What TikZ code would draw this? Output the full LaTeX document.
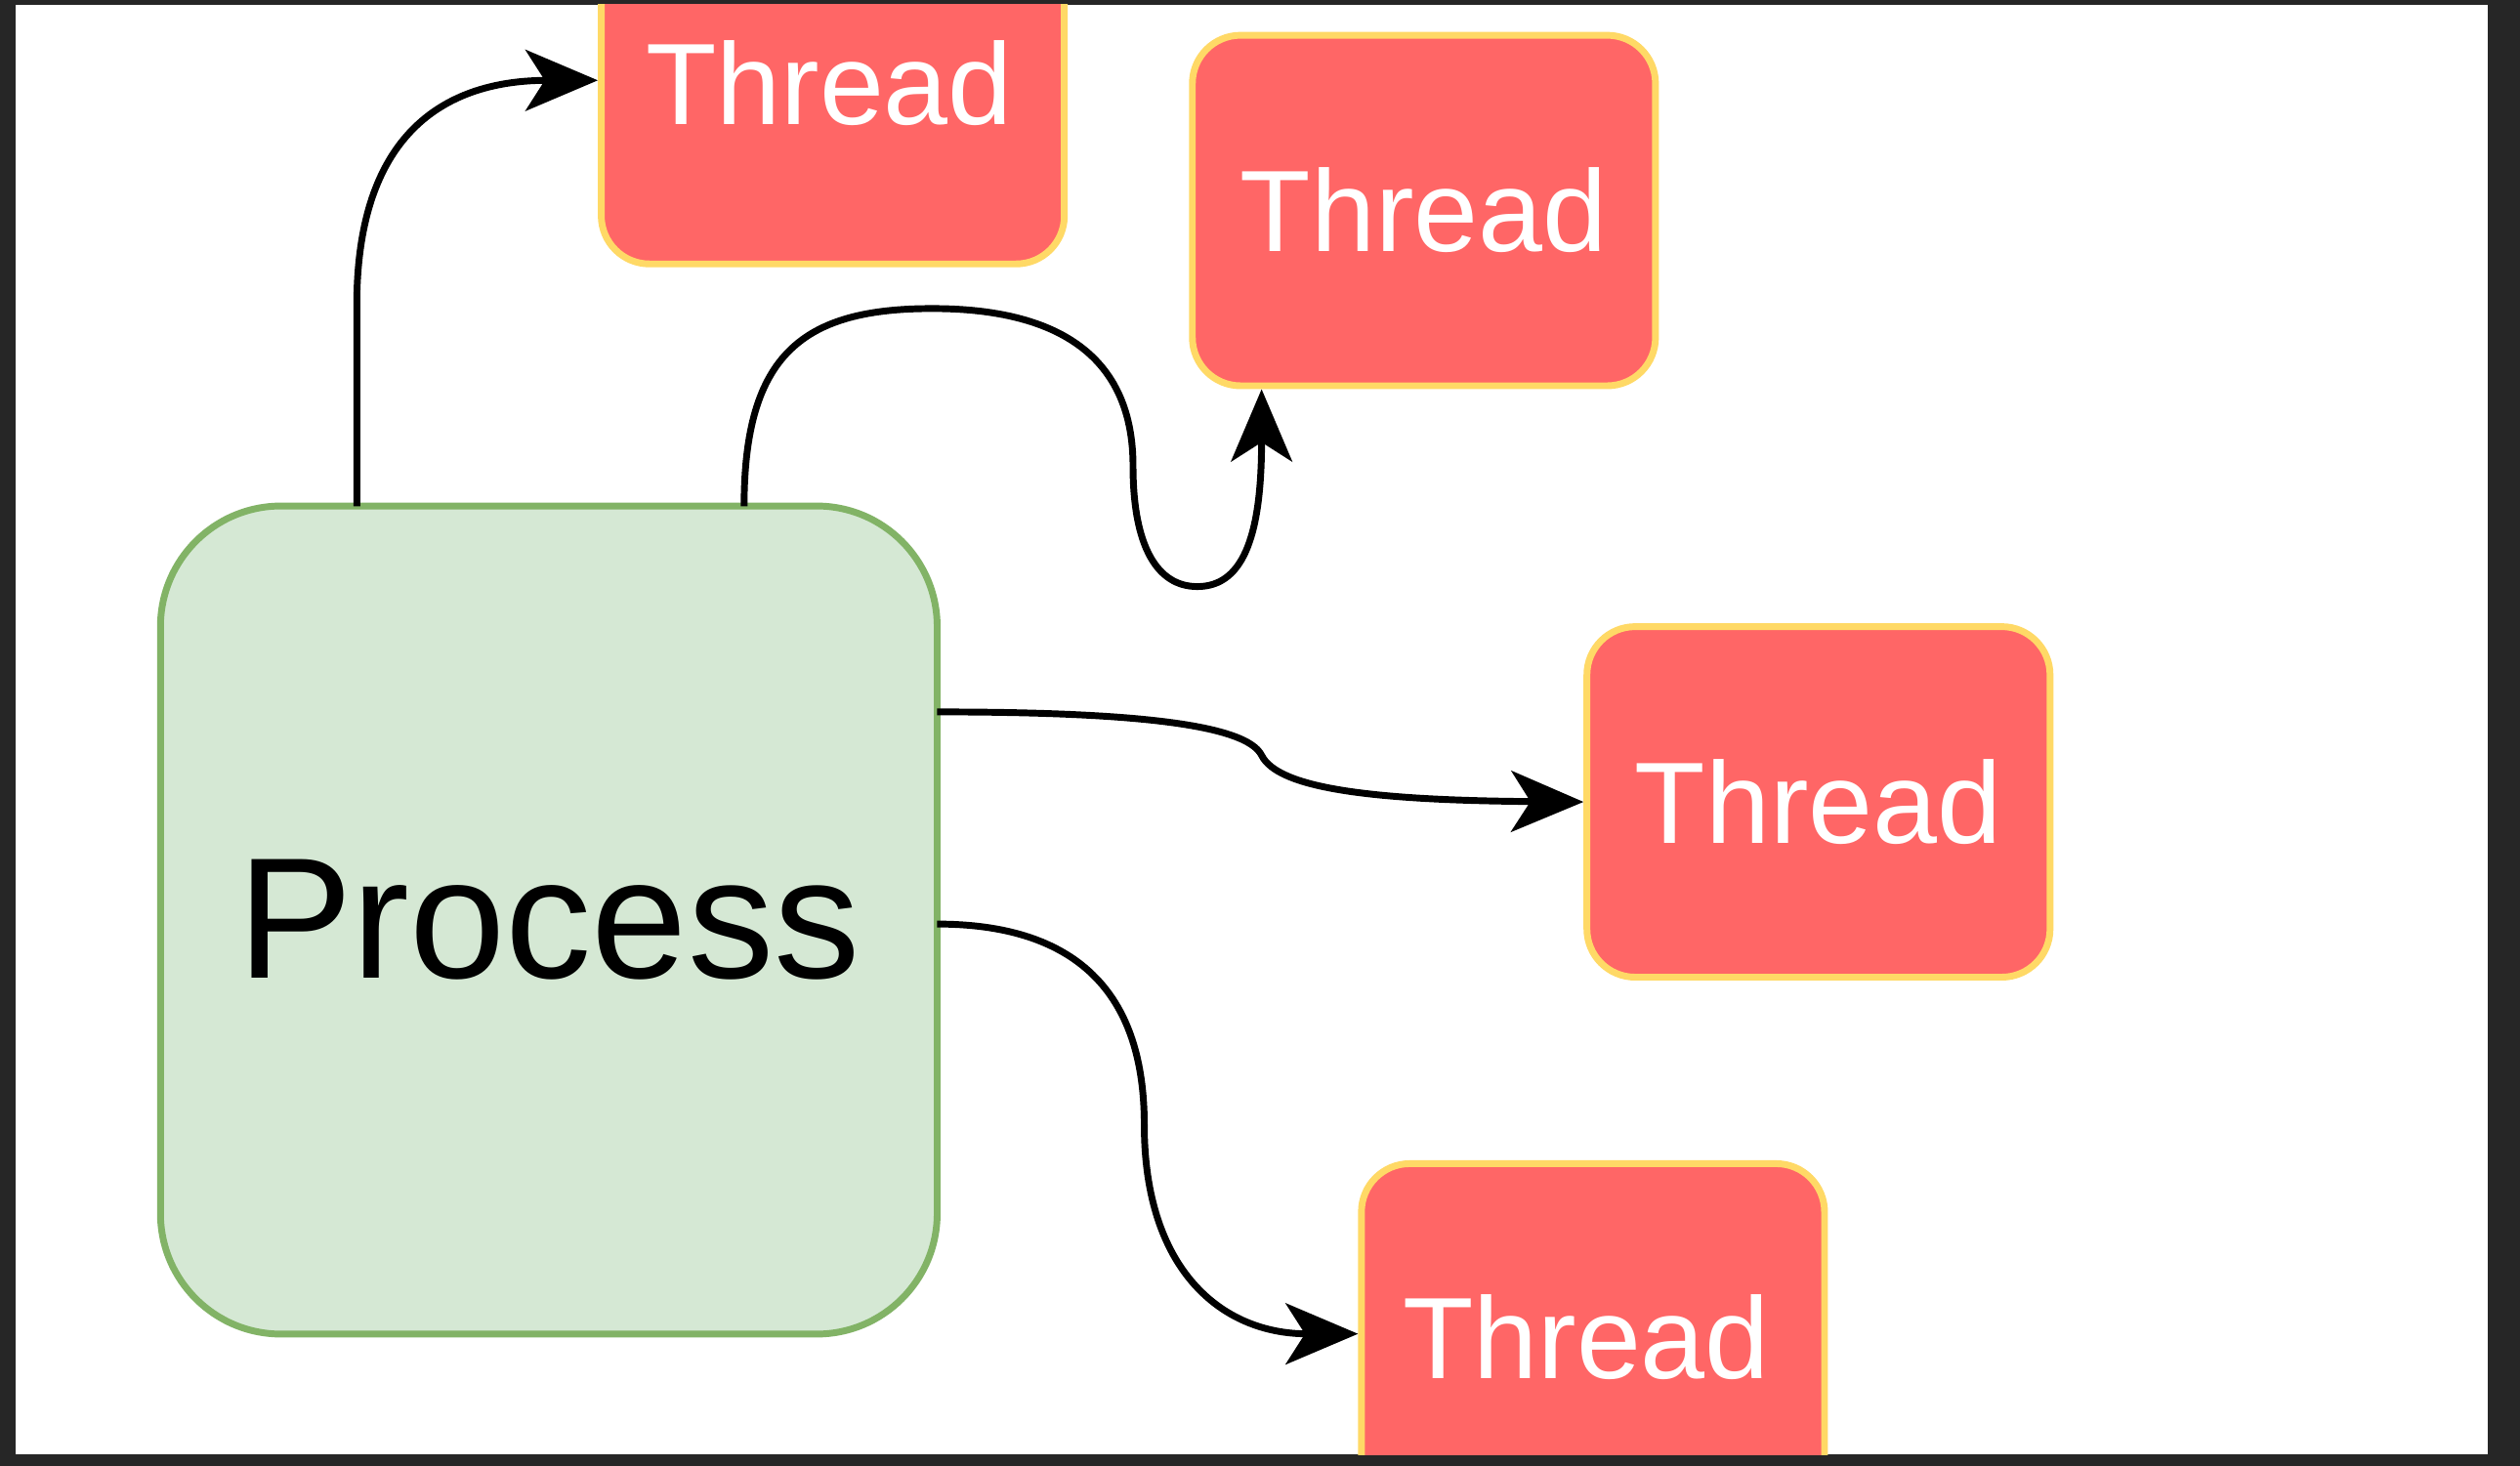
\documentclass[tikz,border=0pt]{standalone}
\usepackage{fontspec}
\setmainfont{Liberation Sans}
\usetikzlibrary{arrows.meta}
\definecolor{pfill}{HTML}{D5E8D4}
\definecolor{pline}{HTML}{82B366}
\definecolor{tfill}{HTML}{FF6666}
\definecolor{tline}{HTML}{FFD966}
\begin{document}
\begin{tikzpicture}[x=0.01cm,y=-0.01cm,
  thr/.style={draw=tline, line width=1.2pt, fill=tfill, rounded corners=0.3cm, minimum width=2.88cm, minimum height=2.18cm, text=white, font=\fontsize{20.5}{24}\selectfont, inner sep=0pt},
  proc/.style={draw=pline, line width=1.2pt, fill=pfill, rounded corners=0.75cm, minimum width=4.83cm, minimum height=5.15cm, font=\fontsize{30.5}{36}\selectfont, inner sep=0pt},
  con/.style={line width=1.2pt, -{Stealth[length=0.45cm,width=0.38cm,inset=0.12cm]}}]
\useasboundingbox (0,0) rectangle (1568,912);
\fill[black!85] (0,0) rectangle (1568,912);
\fill[white] (10,3) rectangle (1548,905);
\begin{scope}
\clip (10,3) rectangle (1548,905);
\node[proc] (p) at (341.5,572.5) {Process};
\node[thr,anchor=north west] (t1) at (372,-56) {};
\node at (516,52) [text=white,font=\fontsize{20.5}{24}\selectfont] (t1l) {Thread};
\node[thr] (t2) at (886,131) {Thread};
\node[thr] (t3) at (1131.5,499) {Thread};
\node[thr,anchor=north west] (t4) at (845,722) {};
\node at (987,832) [text=white,font=\fontsize{20.5}{24}\selectfont] (t4l) {Thread};
\draw[con] (222,315) -- (222,190) .. controls (222,80) and (280,50) .. (t1.west |- 0,50);
\draw[con] (463,315) .. controls (463,220) and (500,192) .. (580,192) .. controls (680,192) and (705,240) .. (705,290) .. controls (705,340) and (720,365) .. (745,365) .. controls (775,365) and (785,330) .. (t2.south -| 785,0);
\draw[con] (583,443) .. controls (700,443) and (775,450) .. (785,470) .. controls (795,490) and (850,498) .. (t3.west);
\draw[con] (583,575) .. controls (690,575) and (712,640) .. (712,700) .. controls (712,790) and (760,830) .. (t4.west |- 0,830);
\end{scope}
\end{tikzpicture}
\end{document}
